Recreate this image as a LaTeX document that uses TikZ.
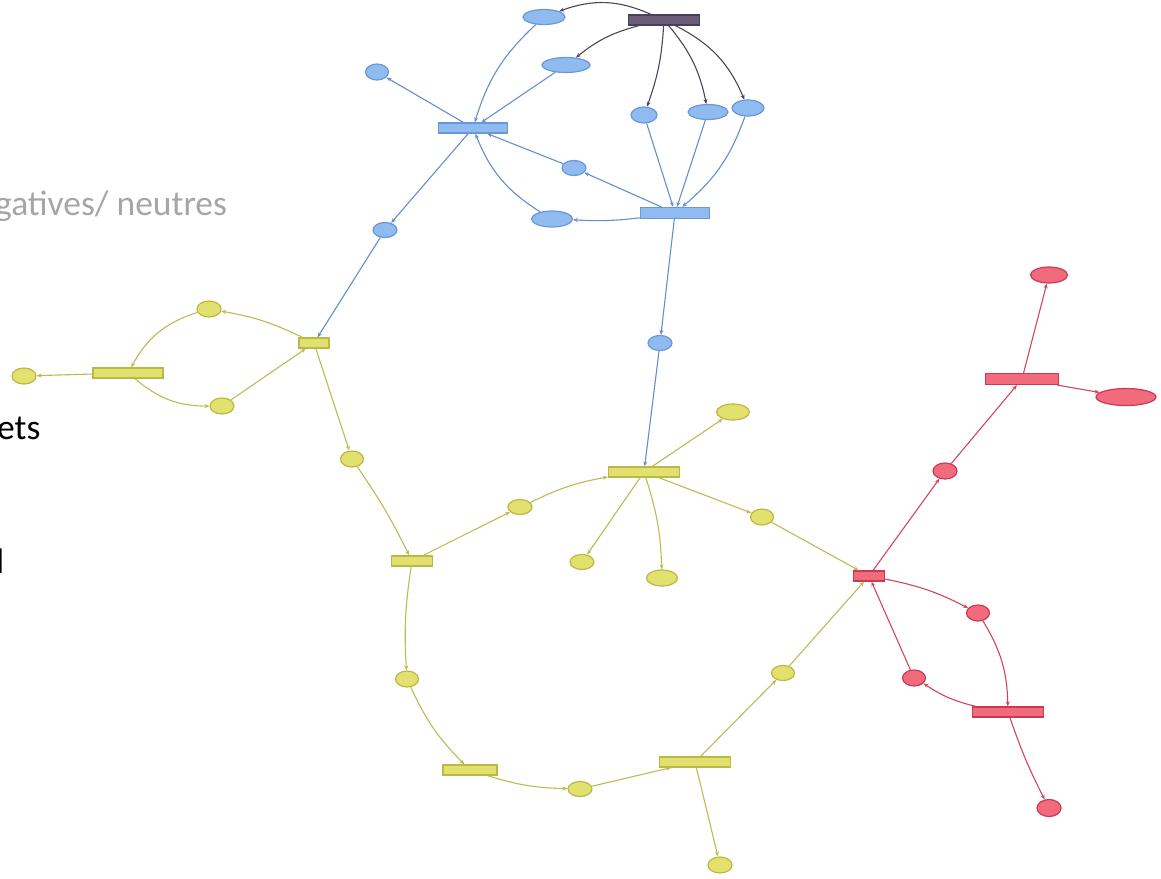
\documentclass[tikz,border=0pt]{standalone}
\usepackage{fontspec}
\setmainfont{Carlito}
\usetikzlibrary{shapes.geometric,arrows.meta}
\definecolor{bfill}{HTML}{90BBF0}
\definecolor{bdraw}{HTML}{6A98D6}
\definecolor{bedge}{HTML}{6190D0}
\definecolor{dfill}{HTML}{6B5D7A}
\definecolor{ddraw}{HTML}{4B4058}
\definecolor{dedge}{HTML}{4E4556}
\definecolor{yfill}{HTML}{E2E06E}
\definecolor{ydraw}{HTML}{B9B943}
\definecolor{yedge}{HTML}{BBBB55}
\definecolor{rfill}{HTML}{F26B7C}
\definecolor{rdraw}{HTML}{C93A55}
\definecolor{redge}{HTML}{D24560}
\definecolor{gtext}{HTML}{A6A6A6}
\tikzset{
  pl/.style={ellipse, inner sep=0pt, line width=1.2pt, minimum width=#1},
  pl/.default=24pt,
  tr/.style={rectangle, inner sep=0pt, line width=1.2pt, minimum height=10pt, minimum width=#1},
  tr/.default=70pt,
  bfl/.style={fill=bfill, draw=bdraw},
  dfl/.style={fill=dfill, draw=ddraw},
  yfl/.style={fill=yfill, draw=ydraw},
  rfl/.style={fill=rfill, draw=rdraw},
  arr/.style={-{Stealth[length=5pt,width=4pt]}, line width=1.1pt},
  be/.style={arr, draw=bedge},
  de/.style={arr, draw=dedge},
  ye/.style={arr, draw=yedge},
  re/.style={arr, draw=redge},
  lbl/.style={inner sep=0pt, font=\fontsize{35.5}{40}\selectfont}
}
\begin{document}
\begin{tikzpicture}[x=1pt,y=-1pt]
\useasboundingbox (0,0) rectangle (1161,878);
% text fragments
\node[lbl, anchor=base west, text=gtext] (t1) at (-5,215) {gatives/ neutres};
\node[lbl, anchor=base west, text=black] (t2) at (-3,439) {ets};
\node[lbl, anchor=base east, text=black] (t3) at (4.5,573) {l};
% dark transition
\node[tr=71pt, dfl] (T0) at (664,20) {};
% blue places / transitions
\node[pl=42pt, minimum height=15pt, bfl] (B1) at (544,17) {};
\node[pl=48pt, minimum height=15pt, bfl] (B2) at (566,65) {};
\node[pl=23pt, minimum height=16pt, bfl] (B3) at (377,72) {};
\node[pl=26pt, minimum height=16pt, bfl] (B4) at (644,115) {};
\node[pl=40pt, minimum height=15pt, bfl] (B5) at (708,112) {};
\node[pl=32pt, minimum height=16pt, bfl] (B6) at (748,108) {};
\node[tr=69pt, bfl] (R1) at (473,128) {};
\node[pl=24pt, minimum height=15pt, bfl] (B7) at (574,168) {};
\node[pl=41pt, minimum height=16pt, bfl] (B8) at (552,219) {};
\node[tr=69pt, minimum height=11pt, bfl] (R2) at (675,213) {};
\node[pl=24pt, minimum height=15pt, bfl] (B9) at (385,230) {};
\node[pl=24pt, minimum height=15pt, bfl] (B10) at (660,343) {};
% yellow
\node[tr=30pt, yfl] (Y2) at (314,343) {};
\node[tr=70pt, yfl] (Y1) at (128,373) {};
\node[pl=24pt, minimum height=16pt, yfl] (YE0) at (24,376) {};
\node[pl=24pt, minimum height=16pt, yfl] (YE1) at (209,309) {};
\node[pl=24pt, minimum height=16pt, yfl] (YE2) at (222,406) {};
\node[pl=23pt, minimum height=16pt, yfl] (YE3) at (352,459) {};
\node[tr=41pt, yfl] (Y3) at (412,561) {};
\node[pl=24pt, minimum height=15pt, yfl] (YE4) at (520,507) {};
\node[tr=71pt, yfl] (Y5) at (644,472) {};
\node[pl=33pt, minimum height=16pt, yfl] (YE5) at (733,412) {};
\node[pl=24pt, minimum height=15pt, yfl] (YE6) at (582,562) {};
\node[pl=31pt, minimum height=16pt, yfl] (YE7) at (662,578) {};
\node[pl=23pt, minimum height=16pt, yfl] (YE8) at (762,517) {};
\node[pl=23pt, minimum height=16pt, yfl] (YE9) at (407,679) {};
\node[tr=54pt, yfl] (Y6) at (470,770) {};
\node[pl=24pt, minimum height=15pt, yfl] (YE10) at (580,789) {};
\node[tr=71pt, yfl] (Y7) at (695,762) {};
\node[pl=23pt, minimum height=15pt, yfl] (YE11) at (783,673) {};
\node[pl=24pt, minimum height=16pt, yfl] (YE12) at (720,865) {};
% red
\node[tr=31pt, rfl] (Ra) at (869,576) {};
\node[pl=24pt, minimum height=16pt, rfl] (RE1) at (945,471) {};
\node[tr=73pt, minimum height=11pt, rfl] (Rb) at (1022,379) {};
\node[pl=37pt, minimum height=16pt, rfl] (RE2) at (1049,275) {};
\node[pl=60pt, minimum height=17pt, rfl] (RE3) at (1126,397) {};
\node[pl=23pt, minimum height=16pt, rfl] (RE4) at (978,613) {};
\node[pl=23pt, minimum height=16pt, rfl] (RE5) at (914,678) {};
\node[tr=71pt, rfl] (Rc) at (1008,712) {};
\node[pl=24pt, minimum height=17pt, rfl] (RE6) at (1049,808) {};
% dark edges
\draw[de] (T0) to[bend right=22] (B1);
\draw[de] (T0) to[bend right=12] (B2);
\draw[de] (T0) to[bend left=8] (B4);
\draw[de] (T0) to[bend left=14] (B5);
\draw[de] (T0) to[bend left=20] (B6);
% blue edges
\draw[be] (B1) to[bend right=15] (R1);
\draw[be] (B2) -- (R1);
\draw[be] (R1) -- (B3);
\draw[be] (R1) -- (B9);
\draw[be] (B4) -- (R2);
\draw[be] (B5) -- (R2);
\draw[be] (B6) to[bend left=15] (R2);
\draw[be] (R2) -- (B7);
\draw[be] (B7) -- (R1);
\draw[be] (R2) to[bend left=5] (B8);
\draw[be] (B8) to[bend left=18] (R1);
\draw[be] (R2) -- (B10);
\draw[be] (B9) -- (Y2);
\draw[be] (B10) -- (Y5);
% yellow edges
\draw[ye] (Y1) -- (YE0);
\draw[ye] (YE1) to[bend right=22] (Y1);
\draw[ye] (Y1) to[bend right=20] (YE2);
\draw[ye] (Y2) to[bend right=8] (YE1);
\draw[ye] (YE2) -- (Y2);
\draw[ye] (Y2) -- (YE3);
\draw[ye] (YE3) to[bend left=4] (Y3);
\draw[ye] (Y3) -- (YE4);
\draw[ye] (YE4) to[bend left=8] (Y5);
\draw[ye] (Y3) to[bend right=6] (YE9);
\draw[ye] (YE9) to[bend right=10] (Y6);
\draw[ye] (Y6) to[bend right=8] (YE10);
\draw[ye] (YE10) -- (Y7);
\draw[ye] (Y7) -- (YE11);
\draw[ye] (YE11) -- (Ra);
\draw[ye] (Y7) -- (YE12);
\draw[ye] (Y5) -- (YE5);
\draw[ye] (Y5) -- (YE6);
\draw[ye] (Y5) to[bend left=8] (YE7);
\draw[ye] (Y5) -- (YE8);
\draw[ye] (YE8) -- (Ra);
% red edges
\draw[re] (Ra) -- (RE1);
\draw[re] (RE1) -- (Rb);
\draw[re] (Rb) -- (RE2);
\draw[re] (Rb) -- (RE3);
\draw[re] (Ra) to[bend left=8] (RE4);
\draw[re] (RE4) to[bend left=15] (Rc);
\draw[re] (Rc) to[bend left=10] (RE5);
\draw[re] (RE5) -- (Ra);
\draw[re] (Rc) to[bend right=4] (RE6);
\end{tikzpicture}
\end{document}
